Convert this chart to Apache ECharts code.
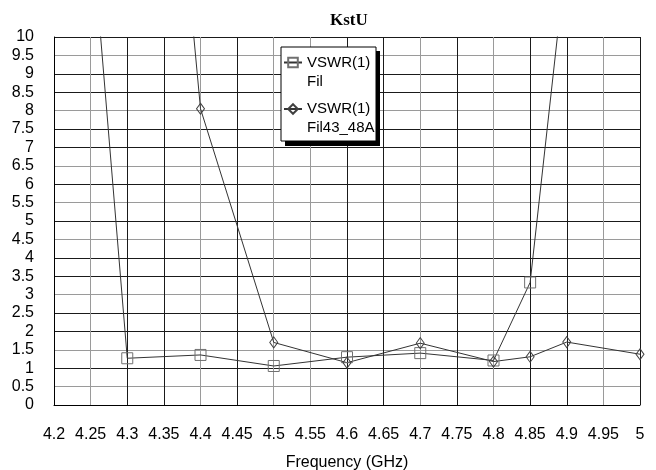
<!DOCTYPE html>
<html>
<head>
<meta charset="utf-8">
<script src="https://cdn.jsdelivr.net/npm/echarts@6/dist/echarts.min.js"></script>
<style>html,body{margin:0;padding:0;background:#fff;}#c{width:656px;height:470px;}</style>
</head>
<body>
<div id="c"></div>
<script>
// Data
const freqs = [4.2, 4.3, 4.4, 4.5, 4.6, 4.7, 4.8, 4.85, 4.9, 5.0];
const vswrFil = [25.3, 1.27, 1.36, 1.06, 1.30, 1.41, 1.21, 3.33, 12.3, 20];
const vswrFil43 = [30, 29.5, 8.05, 1.70, 1.15, 1.68, 1.18, 1.31, 1.71, 1.38];
const seriesNames = ['VSWR(1)\nFil', 'VSWR(1)\nFil43_48A'];
const titleText = 'KstU';
const xName = 'Frequency (GHz)';

const D = '#1a1a1a', G = '#9a9a9a';
const xLineColors = [D, G, D, D, G, D, G, G, D, D, G, D, G, D, D, G, D];
const yLineColors = [D, G, D, G, D, D, G, D, D, G, D, G, D, G, D, D, G, D, D, G, D];

const font = '"Liberation Sans", Arial, sans-serif';
const chart = echarts.init(document.getElementById('c'), null, {renderer: 'canvas'});

function pairs(vals) { return freqs.map((f, i) => [f, vals[i]]); }

const legendText = {fontFamily: font, fontSize: 15, color: '#000', lineHeight: 19};
// a blank first line keeps the icon level with the first text line
const legendFormatter = name => ' \n' + name;

chart.setOption({
  backgroundColor: '#fff',
  animation: false,
  title: {
    text: titleText, left: 330, top: 12, padding: 0,
    textStyle: {fontFamily: '"Liberation Serif", "Times New Roman", serif', fontWeight: 'bold', fontSize: 17, color: '#000'}
  },
  grid: {left: 54, top: 37, width: 586, height: 368, containLabel: false, outerBoundsMode: 'none'},
  graphic: [
    {type: 'rect', z: 5, shape: {x: 285, y: 51, width: 95, height: 95}, style: {fill: '#000'}},
    {type: 'rect', z: 5, shape: {x: 281, y: 47, width: 95, height: 94}, style: {fill: '#fff', stroke: '#000', lineWidth: 1}}
  ],
  legend: [
    {data: [seriesNames[0]], left: 283, top: 34, padding: 0, itemWidth: 18, itemHeight: 12, selectedMode: false, z: 6,
      textStyle: legendText, formatter: legendFormatter},
    {data: [seriesNames[1]], left: 283, top: 80.5, padding: 0, itemWidth: 18, itemHeight: 12, selectedMode: false, z: 6,
      textStyle: legendText, formatter: legendFormatter}
  ],
  xAxis: {
    type: 'value', min: 4.2, max: 5.0, interval: 0.05,
    name: xName, nameLocation: 'middle', nameGap: 50,
    nameTextStyle: {fontFamily: font, fontSize: 16, color: '#000'},
    axisLine: {show: true, lineStyle: {color: '#000', width: 1}},
    axisTick: {show: false},
    axisLabel: {fontFamily: font, fontSize: 16, color: '#000', margin: 22,
      formatter: v => String(+v.toFixed(2))},
    splitLine: {show: true, lineStyle: {color: xLineColors, width: 1}}
  },
  yAxis: {
    type: 'value', min: 0, max: 10, interval: 0.5,
    axisLine: {show: true, lineStyle: {color: '#000', width: 1}},
    axisTick: {show: false},
    axisLabel: {fontFamily: font, fontSize: 16, color: '#000', margin: 20,
      formatter: v => String(+v.toFixed(1))},
    splitLine: {show: true, lineStyle: {color: yLineColors, width: 1}}
  },
  series: [
    {
      name: seriesNames[0], type: 'line', data: pairs(vswrFil),
      symbol: 'rect', symbolSize: 11, z: 3,
      lineStyle: {color: '#333', width: 1},
      itemStyle: {color: 'rgba(0,0,0,0)', borderColor: '#707070', borderWidth: 1},
      emphasis: {disabled: true}
    },
    {
      name: seriesNames[1], type: 'line', data: pairs(vswrFil43),
      symbol: 'diamond', symbolSize: [8, 11], z: 3,
      lineStyle: {color: '#333', width: 1},
      itemStyle: {color: 'rgba(0,0,0,0)', borderColor: '#404040', borderWidth: 1},
      emphasis: {disabled: true}
    }
  ]
});
</script>
</body>
</html>
